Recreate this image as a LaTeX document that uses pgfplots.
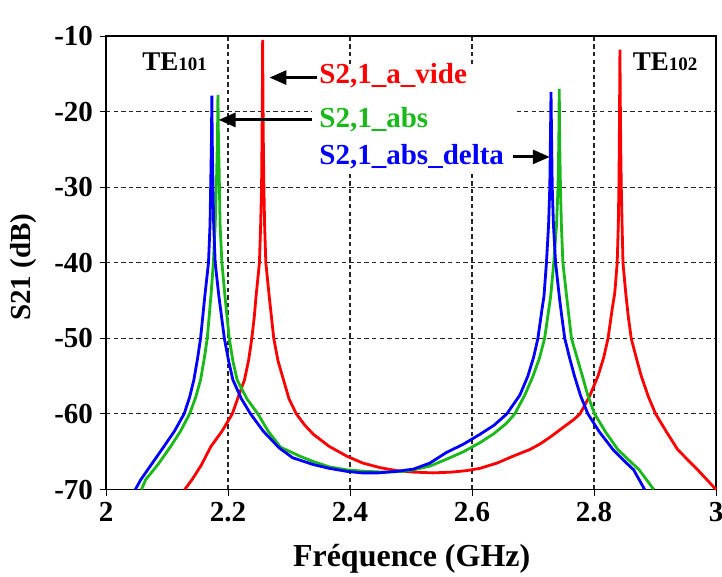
\documentclass[border=0pt]{standalone}
\usepackage{pgfplots}
\pgfplotsset{compat=1.18}
\usetikzlibrary{arrows.meta}
\usepackage{fontspec}
\setmainfont{Liberation Serif}
\definecolor{cred}{RGB}{255,0,0}
\definecolor{cgreen}{RGB}{25,185,25}
\definecolor{cblue}{RGB}{0,0,255}

\pgfplotstableread{
x y
2.129 -70
2.141 -68.7
2.156 -66.8
2.172 -64.3
2.190 -62.3
2.207 -60
2.217 -57.7
2.227 -55.5
2.234 -52.8
2.239 -50
2.243 -47.2
2.246 -44.4
2.249 -42
2.2515 -40
2.2535 -35
2.255 -30
2.2557 -24
2.2563 -18
2.2568 -10.5
2.2573 -18
2.2579 -24
2.2588 -30
2.260 -35
2.262 -40
2.2675 -44.4
2.275 -50
2.282 -53
2.291 -55.5
2.300 -58
2.312 -60
2.326 -61.5
2.340 -62.7
2.366 -64.3
2.395 -65.6
2.421 -66.5
2.449 -67.1
2.476 -67.5
2.506 -67.7
2.536 -67.8
2.566 -67.7
2.591 -67.5
2.613 -67.2
2.641 -66.5
2.667 -65.6
2.695 -64.7
2.711 -64.0
2.731 -62.9
2.749 -61.8
2.766 -60.8
2.777 -60
2.793 -57.6
2.8065 -55
2.816 -52.5
2.823 -50
2.830 -46
2.834 -44
2.838 -40
2.8398 -35
2.8408 -30
2.8415 -24
2.842 -18
2.8425 -11.8
2.843 -18
2.8437 -24
2.8447 -30
2.846 -35
2.8475 -40
2.852 -44
2.856 -47
2.861 -50
2.869 -52.5
2.8775 -55
2.889 -57.7
2.901 -60
2.919 -62.4
2.937 -64.7
2.954 -66.1
2.970 -67.4
2.985 -68.7
3.000 -70
}\redtab

\pgfplotstableread{
x y
2.058 -70
2.065 -68.7
2.086 -66.6
2.106 -64.3
2.122 -62.3
2.137 -60
2.147 -57.8
2.155 -55.5
2.161 -52.7
2.166 -50
2.172 -44.4
2.176 -40
2.179 -35
2.1815 -28
2.1828 -23
2.1835 -17.8
2.1842 -23
2.1855 -28
2.187 -35
2.190 -40
2.195 -44.4
2.202 -50
2.208 -53
2.215 -55.5
2.231 -58
2.249 -60
2.266 -62.3
2.286 -64.4
2.318 -65.6
2.340 -66.3
2.366 -67.0
2.395 -67.4
2.426 -67.6
2.456 -67.7
2.486 -67.6
2.504 -67.4
2.531 -66.9
2.558 -66.0
2.586 -65.0
2.613 -63.8
2.636 -62.6
2.657 -61.2
2.670 -60
2.686 -57.6
2.700 -55
2.711 -52.5
2.719 -50
2.729 -44.4
2.734 -40
2.7385 -35
2.741 -30
2.7423 -24
2.743 -17.0
2.7437 -24
2.745 -30
2.7465 -35
2.749 -40
2.755 -44.4
2.763 -50
2.772 -52.5
2.781 -55
2.790 -57.6
2.801 -60
2.819 -62.4
2.839 -64.7
2.857 -66.1
2.874 -67.4
2.886 -68.7
2.898 -70
}\greentab

\pgfplotstableread{
x y
2.048 -70
2.057 -68.7
2.076 -66.5
2.095 -64.3
2.112 -62.3
2.128 -60
2.137 -57.8
2.144 -55.5
2.150 -52.7
2.155 -50
2.162 -44.4
2.168 -40
2.1705 -35
2.172 -28
2.1728 -24
2.1735 -17.9
2.1742 -24
2.175 -28
2.1765 -35
2.179 -40
2.185 -44.4
2.194 -50
2.201 -53
2.208 -55.5
2.222 -58
2.237 -60
2.258 -62.3
2.284 -64.5
2.306 -65.8
2.340 -66.7
2.366 -67.2
2.395 -67.6
2.420 -67.8
2.446 -67.8
2.476 -67.6
2.504 -67.3
2.531 -66.5
2.558 -65.1
2.586 -64.0
2.613 -62.7
2.636 -61.5
2.657 -60
2.6785 -57.5
2.6915 -55
2.701 -52.5
2.708 -50
2.715 -46
2.718 -44.4
2.722 -40
2.7255 -35
2.7275 -30
2.7285 -24
2.7295 -17.4
2.7305 -24
2.7315 -30
2.7335 -35
2.737 -40
2.743 -44.4
2.747 -47
2.752 -50
2.760 -52.6
2.768 -55
2.778 -57.6
2.790 -60
2.809 -62.4
2.831 -64.7
2.848 -66.1
2.865 -67.4
2.874 -68.7
2.883 -70
}\bluetab

\newcommand{\tickfont}{\bfseries\fontsize{14.5}{16}\selectfont}
\newcommand{\legfont}{\bfseries\fontsize{14.5}{16}\selectfont}

\begin{document}
\begin{tikzpicture}
\begin{axis}[
  scale only axis,
  width=305pt, height=226.75pt,
  xmin=2, xmax=3, ymin=-70, ymax=-10,
  xtick={2,2.2,2.4,2.6,2.8,3},
  xticklabels={2,2.2,2.4,2.6,2.8,3},
  ytick={-70,-60,-50,-40,-30,-20,-10},
  yticklabels={-70,-60,-50,-40,-30,-20,-10},
  grid=major,
  grid style={black!85, line width=0.55pt, dash pattern=on 2.2pt off 1.6pt},
  axis line style={black, line width=0.6pt},
  tick align=outside, tick pos=left,
  major tick length=3pt,
  tick style={black, line width=0.5pt},
  ticklabel style={font=\tickfont},
  xlabel={Fréquence (GHz)},
  ylabel={S21 (dB)},
  xlabel style={font=\bfseries\fontsize{16}{18}\selectfont, at={(axis description cs:0.501,-0.152)}, anchor=center},
  ylabel style={font=\tickfont, at={(axis description cs:-0.136,0.49)}, anchor=center},
  clip=false,
]
\fill[white] (axis cs:2.338,-13.8) rectangle (axis cs:2.674,-28.3);
\addplot[cred, line width=1.4pt] table[x=x,y=y] {\redtab};
\addplot[cgreen, line width=1.4pt] table[x=x,y=y] {\greentab};
\addplot[cblue, line width=1.4pt] table[x=x,y=y] {\bluetab};

\node[anchor=west, text=cred, font=\legfont, inner sep=1pt] at (axis cs:2.346,-15.3) {S2,1\_a\_vide};
\node[anchor=west, text=cgreen, font=\legfont, inner sep=1pt] at (axis cs:2.346,-21.1) {S2,1\_abs};
\node[anchor=west, text=cblue, font=\legfont, inner sep=1pt] at (axis cs:2.346,-26.0) {S2,1\_abs\_delta};

\draw[black, line width=1.5pt, -{Triangle[length=8.5pt,width=7pt]}] (axis cs:2.346,-15.5) -- (axis cs:2.268,-15.5);
\draw[black, line width=1.5pt, -{Triangle[length=8.5pt,width=7pt]}] (axis cs:2.338,-21.1) -- (axis cs:2.1846,-21.1);
\draw[black, line width=1.5pt, -{Triangle[length=8.5pt,width=7pt]}] (axis cs:2.667,-26.0) -- (axis cs:2.7275,-26.0);

\node[anchor=west, font=\bfseries\fontsize{13.5}{16}\selectfont, inner sep=0pt] at (axis cs:2.059,-13.4) {TE{\fontsize{9.5}{12}\selectfont 101}};
\node[anchor=west, font=\bfseries\fontsize{13.5}{16}\selectfont, inner sep=0pt] at (axis cs:2.863,-13.4) {TE{\fontsize{9.5}{12}\selectfont 102}};

\coordinate (bbsw) at (rel axis cs:-0.1738,-0.1929);
\coordinate (bbne) at (rel axis cs:1.0098,1.0794);
\end{axis}
\pgfresetboundingbox
\path[use as bounding box] (bbsw) rectangle (bbne);
\end{tikzpicture}
\end{document}
